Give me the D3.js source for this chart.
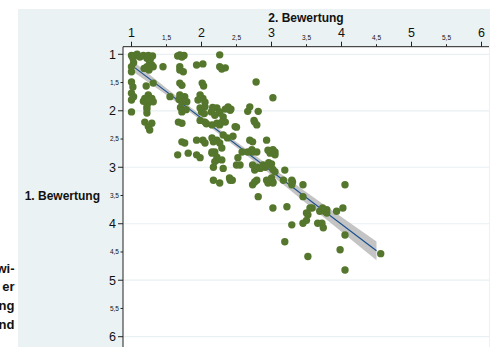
<!DOCTYPE html>
<html lang="de">
<head>
<meta charset="UTF-8">
<title>Bewertung</title>
<style>
    body { margin: 0; background: #fff; overflow: hidden; }
    svg { display: block; font-family: "Liberation Sans", Arial, sans-serif; }
</style>
</head>
<body>
<div id="chart"></div>
<script src="https://d3js.org/d3.v7.min.js"></script>
<script>
// [2. Bewertung, 1. Bewertung]
const ratings = [
    [1.0,1.02],[1.05,1.02],[1.02,1.07],[1.08,1.0],[1.12,1.05],
    [1.17,1.02],[1.24,1.02],[1.22,1.07],[1.3,1.03],[1.27,1.08],
    [1.69,1.01],[1.72,1.05],[1.66,1.03],[1.75,1.02],[2.26,1.01],
    [1.0,1.22],[1.0,1.31],[1.03,1.15],
    [1.29,1.19],[1.22,1.22],[1.31,1.22],[1.26,1.15],[1.18,1.25],[1.25,1.28],
    [1.45,1.22],[1.69,1.22],[1.74,1.31],[1.69,1.28],
    [1.93,1.19],[2.02,1.17],[2.26,1.22],[2.29,1.26],[2.34,1.24],
    [1.0,1.49],[1.02,1.58],[1.0,1.69],[1.0,1.81],[1.03,1.75],
    [1.21,1.56],[1.31,1.51],
    [1.24,1.72],[1.19,1.78],[1.29,1.78],[1.24,1.86],[1.31,1.84],[1.22,1.93],[1.17,1.83],
    [1.55,1.75],[1.69,1.51],[1.72,1.55],
    [1.69,1.72],[1.76,1.75],[1.72,1.84],[1.79,1.84],[1.68,1.8],
    [2.01,1.51],[2.03,1.56],
    [1.98,1.72],[2.02,1.78],[1.95,1.81],[2.05,1.85],
    [2.78,1.49],[3.02,1.77],
    [1.0,2.02],[1.22,2.04],[1.22,1.97],
    [1.7,1.94],[1.72,2.02],[1.78,1.98],
    [2.05,1.93],[1.98,1.95],[2.0,2.02],[2.04,2.05],[2.14,2.02],
    [2.22,1.95],[2.26,2.02],[2.19,2.08],[2.31,2.11],[2.16,1.94],[2.26,2.04],
    [2.38,1.93],[2.41,1.99],[2.42,1.97],[2.34,1.97],
    [2.69,1.93],[2.66,2.01],[2.81,2.01],[2.75,2.17],[2.79,2.25],[2.76,2.2],
    [1.19,2.2],[1.29,2.22],[1.24,2.28],[1.26,2.34],
    [1.67,2.2],[1.72,2.22],
    [1.98,2.17],[2.05,2.2],[2.07,2.23],
    [2.22,2.22],[2.29,2.2],[2.15,2.25],[2.26,2.25],[2.34,2.2],
    [2.48,2.28],[2.5,2.29],
    [2.31,2.43],[2.37,2.48],
    [1.72,2.55],[1.76,2.57],
    [1.93,2.52],[2.02,2.52],[2.05,2.57],
    [2.17,2.55],[2.22,2.52],[2.26,2.57],[2.15,2.48],
    [2.45,2.45],[2.73,2.55],[2.93,2.52],[2.69,2.52],
    [2.29,2.66],[2.19,2.73],[2.22,2.82],[2.19,2.9],[2.15,2.75],[2.22,2.87],[2.29,2.87],
    [1.66,2.78],[1.81,2.75],[1.93,2.78],[1.98,2.83],[2.15,2.73],
    [2.58,2.73],[2.52,2.83],[2.5,2.96],[2.55,2.96],
    [2.72,2.69],[2.79,2.73],[2.66,2.73],[2.73,2.73],[3.02,2.69],[3.05,2.78],[2.98,2.75],[3.05,2.73],[2.95,2.7],
    [2.73,2.96],[2.79,3.0],[2.84,3.02],[2.91,3.0],[2.88,2.96],[2.95,2.96],[2.96,2.92],[3.0,2.94],
    [2.17,3.0],[2.31,3.02],[2.17,3.23],[2.26,3.28],[2.4,3.19],[2.41,3.23],[2.44,3.23],
    [2.76,3.05],[3.05,3.08],[3.19,3.05],[3.02,3.04],
    [2.79,3.23],[2.73,3.31],[2.76,3.26],
    [2.93,3.23],[3.0,3.19],[3.02,3.28],[2.95,3.28],[3.02,3.26],
    [3.17,3.23],[3.29,3.23],[3.3,3.26],[3.29,3.31],[3.45,3.31],[4.05,3.31],
    [3.45,3.52],[2.81,3.52],
    [3.02,3.72],[3.22,3.7],[3.58,3.72],[3.73,3.72],[3.79,3.75],
    [3.55,3.72],[3.5,3.81],[3.52,3.84],
    [3.69,3.78],[3.76,3.78],[3.79,3.81],[3.93,3.78],[4.02,3.72],
    [3.29,4.02],[3.45,3.99],[3.5,3.94],[3.66,3.99],[3.72,3.99],[3.74,4.07],
    [3.19,4.32],[4.05,4.2],[3.98,4.46],[3.52,4.58],[4.05,4.82],[4.56,4.53]
];

// fitted line and its confidence band
const fitX = [1.05, 4.5];
const fitY = [1.24, 4.48];
const ciX = [1.05, 1.5, 2, 2.5, 3, 3.5, 4, 4.5];
const ciHalf = [0.09, 0.06, 0.045, 0.048, 0.072, 0.1, 0.13, 0.165];

const majorTicks = [1, 2, 3, 4, 5, 6];
const minorTicks = [1.5, 2.5, 3.5, 4.5, 5.5];
const fmt = d => String(d).replace('.', ',');

const sideText = ["wi-", "er", "ng", "nd"];

const W = 497, H = 347;
const plot = { left: 123, top: 46.7, right: 489, bottom: 352 };

const x = d3.scaleLinear().domain([1, 6]).range([131.5, 481.5]);
const y = d3.scaleLinear().domain([1, 6]).range([54.3, 336.7]);

const svg = d3.select("#chart").append("svg")
    .attr("width", W)
    .attr("height", H);

// panel background
svg.append("rect")
    .attr("x", 18).attr("y", 9)
    .attr("width", 472).attr("height", H)
    .attr("fill", "#eaf2f3");

svg.append("rect")
    .attr("x", plot.left).attr("y", plot.top)
    .attr("width", plot.right - plot.left).attr("height", plot.bottom - plot.top)
    .attr("fill", "#fff");

// horizontal grid
svg.append("g").selectAll("line")
    .data(majorTicks)
    .join("line")
    .attr("x1", plot.left).attr("x2", plot.right)
    .attr("y1", d => y(d)).attr("y2", d => y(d))
    .attr("stroke", "#e8f0f2")
    .attr("stroke-width", 1.2);

// confidence band
const band = ciX.map((v, i) => {
    const m = fitY[0] + (v - fitX[0]) * (fitY[1] - fitY[0]) / (fitX[1] - fitX[0]);
    return { x: v, lo: m - ciHalf[i], hi: m + ciHalf[i] };
});
svg.append("path")
    .datum(band)
    .attr("fill", "#c4c4c4")
    .attr("d", d3.area().curve(d3.curveMonotoneX)
        .x(d => x(d.x)).y0(d => y(d.lo)).y1(d => y(d.hi)));

svg.append("line")
    .attr("x1", x(fitX[0])).attr("y1", y(fitY[0]))
    .attr("x2", x(fitX[1])).attr("y2", y(fitY[1]))
    .attr("stroke", "#1a4f8f")
    .attr("stroke-width", 1.2);

// points
svg.append("g").selectAll("circle")
    .data(ratings)
    .join("circle")
    .attr("cx", d => x(d[0]))
    .attr("cy", d => y(d[1]))
    .attr("r", 3.7)
    .attr("fill", "#55772d");

// top axis
const topAxis = svg.append("g");
topAxis.append("line")
    .attr("x1", plot.left).attr("x2", plot.right)
    .attr("y1", plot.top).attr("y2", plot.top)
    .attr("stroke", "#222");
topAxis.selectAll(".maj").data(majorTicks).join("line")
    .attr("class", "maj")
    .attr("x1", d => x(d)).attr("x2", d => x(d))
    .attr("y1", plot.top).attr("y2", plot.top - 5)
    .attr("stroke", "#222");
topAxis.selectAll(".min").data(minorTicks).join("line")
    .attr("class", "min")
    .attr("x1", d => x(d)).attr("x2", d => x(d))
    .attr("y1", plot.top).attr("y2", plot.top - 2.5)
    .attr("stroke", "#222");
topAxis.selectAll(".majl").data(majorTicks).join("text")
    .attr("class", "majl")
    .attr("x", d => x(d)).attr("y", 36.5)
    .attr("text-anchor", "middle")
    .attr("font-size", 12.5)
    .attr("fill", "#111")
    .text(fmt);
topAxis.selectAll(".minl").data(minorTicks).join("text")
    .attr("class", "minl")
    .attr("x", d => x(d)).attr("y", 39.5)
    .attr("text-anchor", "middle")
    .attr("font-size", 6.5)
    .attr("fill", "#111")
    .text(fmt);
svg.append("text")
    .attr("x", (plot.left + plot.right) / 2).attr("y", 22)
    .attr("text-anchor", "middle")
    .attr("font-size", 12)
    .attr("font-weight", "bold")
    .attr("fill", "#111")
    .text("2. Bewertung");

// left axis
const leftAxis = svg.append("g");
leftAxis.append("line")
    .attr("x1", plot.left).attr("x2", plot.left)
    .attr("y1", plot.top).attr("y2", plot.bottom)
    .attr("stroke", "#222");
leftAxis.selectAll(".maj").data(majorTicks).join("line")
    .attr("class", "maj")
    .attr("x1", plot.left).attr("x2", plot.left - 5)
    .attr("y1", d => y(d)).attr("y2", d => y(d))
    .attr("stroke", "#222");
leftAxis.selectAll(".min").data(minorTicks).join("line")
    .attr("class", "min")
    .attr("x1", plot.left).attr("x2", plot.left - 2.5)
    .attr("y1", d => y(d)).attr("y2", d => y(d))
    .attr("stroke", "#222");
leftAxis.selectAll(".majl").data(majorTicks).join("text")
    .attr("class", "majl")
    .attr("x", 116).attr("y", d => y(d))
    .attr("dy", "0.35em")
    .attr("text-anchor", "end")
    .attr("font-size", 12.5)
    .attr("fill", "#111")
    .text(fmt);
leftAxis.selectAll(".minl").data(minorTicks).join("text")
    .attr("class", "minl")
    .attr("x", 119).attr("y", d => y(d))
    .attr("dy", "0.35em")
    .attr("text-anchor", "end")
    .attr("font-size", 6.5)
    .attr("fill", "#111")
    .text(fmt);
svg.append("text")
    .attr("x", 100).attr("y", 199.5)
    .attr("text-anchor", "end")
    .attr("font-size", 12)
    .attr("font-weight", "bold")
    .attr("fill", "#111")
    .text("1. Bewertung");

// side caption, cut off at the left edge as in the source
svg.append("g").selectAll("text")
    .data(sideText)
    .join("text")
    .attr("x", 14.5)
    .attr("y", (d, i) => 272.5 + i * 18.7)
    .attr("text-anchor", "end")
    .attr("font-size", 13)
    .attr("font-weight", "bold")
    .attr("fill", "#111")
    .text(d => d);
</script>
</body>
</html>
